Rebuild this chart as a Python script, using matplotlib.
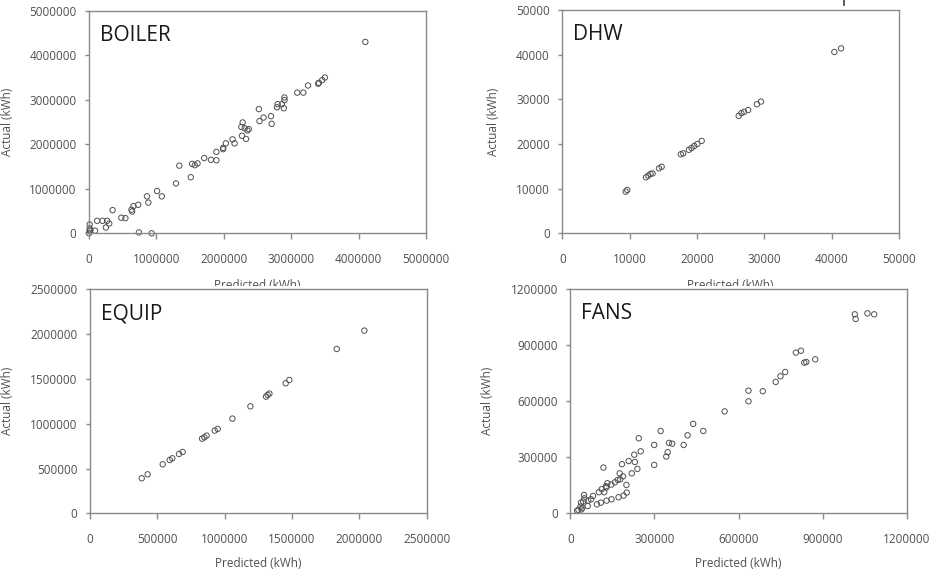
import matplotlib
matplotlib.use("Agg")
import matplotlib.pyplot as plt
from matplotlib.patches import Rectangle
from matplotlib.lines import Line2D

plt.rcParams['font.family'] = ['Open Sans', 'DejaVu Sans']

# BOILER (values in kWh)
boiler_pred = [4.10, 3.50, 3.46, 3.41, 3.40, 3.25, 3.18, 3.09, 2.90, 2.90, 2.89, 2.86, 2.80, 2.79,
               2.70, 2.71, 2.59, 2.53, 2.52, 2.37, 2.35, 2.33, 2.31, 2.28, 2.26, 2.27, 2.16, 2.13,
               2.03, 1.99, 1.99, 1.89, 1.89, 1.81, 1.71, 1.61, 1.57, 1.53, 1.34, 1.51, 1.29, 1.08,
               1.01, 0.88, 0.86, 0.73, 0.66, 0.64, 0.63, 0.54, 0.48, 0.35, 0.30, 0.27, 0.25, 0.20,
               0.12, 0.09, 0.01, 0.01, 0.01, 0.00, 0.02, 0.74, 0.93]
boiler_act = [4.30, 3.50, 3.44, 3.38, 3.36, 3.32, 3.16, 3.16, 3.05, 2.99, 2.81, 2.90, 2.90, 2.83,
              2.63, 2.46, 2.60, 2.52, 2.79, 2.34, 2.31, 2.12, 2.36, 2.49, 2.39, 2.19, 2.02, 2.11,
              2.02, 1.89, 1.92, 1.83, 1.64, 1.65, 1.69, 1.57, 1.53, 1.56, 1.52, 1.26, 1.12, 0.83,
              0.95, 0.69, 0.83, 0.64, 0.61, 0.49, 0.53, 0.34, 0.35, 0.52, 0.22, 0.28, 0.13, 0.28,
              0.28, 0.06, 0.20, 0.11, 0.06, 0.00, 0.07, 0.02, 0.00]
boiler_pred = [v * 1e6 for v in boiler_pred]
boiler_act = [v * 1e6 for v in boiler_act]

# DHW
dhw_pred = [9.41, 9.65, 12.43, 12.77, 13.1, 13.4, 14.36, 14.75, 17.6, 17.97, 18.8, 19.2, 19.6,
            20.05, 20.7, 26.2, 26.6, 27.0, 27.6, 28.9, 29.5, 40.4, 41.4]
dhw_act = [9.33, 9.70, 12.54, 12.91, 13.3, 13.4, 14.55, 14.9, 17.7, 17.9, 18.7, 19.1, 19.55,
           20.0, 20.7, 26.3, 26.9, 27.2, 27.6, 28.9, 29.5, 40.6, 41.4]
dhw_pred = [v * 1e3 for v in dhw_pred]
dhw_act = [v * 1e3 for v in dhw_act]

# EQUIP
equip_pred = [0.384, 0.428, 0.540, 0.592, 0.611, 0.661, 0.688, 0.832, 0.849, 0.866, 0.926, 0.948,
              1.057, 1.191, 1.307, 1.319, 1.332, 1.453, 1.480, 1.832, 2.037]
equip_act = [0.391, 0.435, 0.547, 0.595, 0.614, 0.662, 0.685, 0.833, 0.848, 0.867, 0.923, 0.941,
             1.057, 1.194, 1.302, 1.321, 1.336, 1.451, 1.488, 1.834, 2.039]
equip_pred = [v * 1e6 for v in equip_pred]
equip_act = [v * 1e6 for v in equip_act]

# FANS
fans_pred = [10.14, 10.17, 10.59, 10.83, 8.04, 8.22, 8.34, 8.41, 8.73, 7.66, 7.49, 7.32, 6.86,
             6.35, 6.35, 5.50, 4.38, 4.18, 4.74, 4.04, 3.63, 3.52, 3.47, 3.42, 3.22, 2.99, 2.99,
             2.44, 2.51, 2.39, 2.28, 2.30, 2.19, 2.08, 1.84, 1.18, 1.76, 1.88, 1.78, 1.69, 2.00,
             1.59, 1.46, 1.32, 1.27, 1.12, 1.02, 1.21, 1.29, 2.01, 1.90, 1.72, 1.47, 1.29, 1.09,
             0.95, 0.81, 0.74, 0.64, 0.49, 0.50, 0.46, 0.38, 0.36, 0.43, 0.62, 0.40, 0.29, 0.24]
fans_act = [10.66, 10.41, 10.71, 10.66, 8.61, 8.71, 8.07, 8.11, 8.25, 7.57, 7.34, 7.04, 6.54,
            6.57, 6.00, 5.46, 4.79, 4.18, 4.41, 3.66, 3.73, 3.77, 3.27, 3.04, 4.41, 3.66, 2.59,
            4.02, 3.32, 2.38, 3.14, 2.75, 2.14, 2.80, 2.63, 2.45, 2.14, 1.98, 1.82, 1.79, 1.52,
            1.66, 1.54, 1.61, 1.45, 1.29, 1.13, 1.13, 1.39, 1.11, 0.95, 0.86, 0.75, 0.68, 0.57,
            0.48, 0.93, 0.75, 0.68, 0.98, 0.80, 0.63, 0.57, 0.36, 0.30, 0.39, 0.21, 0.18, 0.14]
fans_pred = [v * 1e5 for v in fans_pred]
fans_act = [v * 1e5 for v in fans_act]

W, H = 935, 573
fig = plt.figure(figsize=(W / 100, H / 100), dpi=100)

def box(l, t, r, b):
    return [l / W, 1 - b / H, (r - l) / W, (b - t) / H]

panels = [
    ("BOILER", boiler_pred, boiler_act, 5e6, 1e6, box(89, 10.7, 426, 233.3), -0.223, -0.205),
    ("DHW", dhw_pred, dhw_act, 5e4, 1e4, box(562.3, 10, 899, 233.3), -0.185, -0.205),
    ("EQUIP", equip_pred, equip_act, 2.5e6, 5e5, box(90, 289.3, 426.7, 513.3), -0.226, -0.195),
    ("FANS", fans_pred, fans_act, 1.2e6, 3e5, box(570.3, 289.3, 907, 513.3), -0.227, -0.195),
]

grey = '#8a8a8a'
txt = '#505050'

for i, (name, xp, ya, lim, step, pos, ylx, xly) in enumerate(panels):
    ax = fig.add_axes(pos)
    ax.set_zorder(0 if i < 2 else 2)
    ax.scatter(xp, ya, s=15, facecolors='none', edgecolors='#505050', linewidths=0.7, clip_on=False)
    ax.set_xlim(0, lim)
    ax.set_ylim(0, lim)
    ticks = [step * k for k in range(int(round(lim / step)) + 1)]
    ax.set_xticks(ticks)
    ax.set_yticks(ticks)
    ax.set_xticklabels([str(int(t)) for t in ticks])
    ax.set_yticklabels([str(int(t)) for t in ticks])
    for s in ax.spines.values():
        s.set_color(grey)
        s.set_linewidth(1.0)
    ax.tick_params(axis='x', direction='out', length=4, width=1, color=grey, labelcolor=txt,
                   labelsize=8.5, pad=10)
    ax.tick_params(axis='y', direction='out', length=3, width=1, color=grey, labelcolor=txt,
                   labelsize=8.5, pad=6)
    ax.set_xlabel('Predicted (kWh)', fontsize=8.5, color=txt)
    ax.set_ylabel('Actual (kWh)', fontsize=8.5, color=txt)
    ax.xaxis.set_label_coords(0.5, xly)
    ax.yaxis.set_label_coords(ylx, 0.5)
    ax.text(0.033, 0.89, name, transform=ax.transAxes, fontsize=15, color='#1a1a1a',
            ha='left', va='center')

# strip where the lower charts were pasted over the upper ones
fig.add_artist(Rectangle((0, 1 - 289 / H), 1, 3 / H, transform=fig.transFigure,
                         facecolor='white', edgecolor='none', zorder=1))
fig.add_artist(Line2D([844 / W, 844 / W], [1, 1 - 5 / H], transform=fig.transFigure,
                      color='#404040', linewidth=1.2))

fig.savefig('out.png', dpi=100)
